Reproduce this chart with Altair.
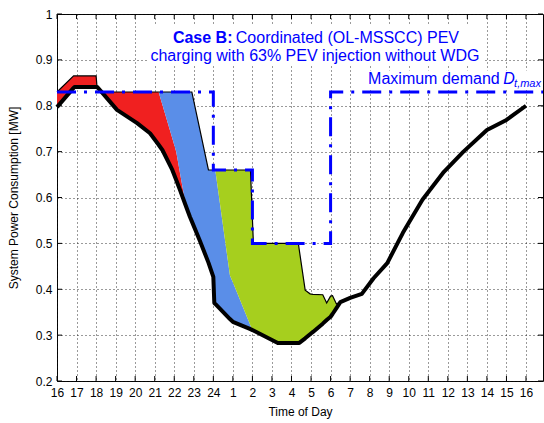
import altair as alt
import pandas as pd

# hours after 16:00 (0 = 16h, 8 = 24h, 24 = 16h next day)
hours = [0, 0.85, 0.9, 1.95, 2.0, 2.05, 2.3, 3.07, 4.1, 4.76, 5.2, 5.4, 5.9, 6.1, 6.3,
         6.6, 6.8, 6.9, 7.3, 7.75, 8.0, 8.05, 8.1, 8.85, 9.0, 9.9, 10.0, 10.05, 11.3,
         12.35, 12.4, 12.7, 12.95, 13.1, 13.6, 13.8, 14.0, 14.1, 14.3, 14.5,
         15.0, 15.6, 16.2, 16.9, 17.7, 18.7, 19.8, 20.8, 22.0, 23.0, 24.0]
base_load = [0.797, 0.839, 0.841, 0.841, 0.841, 0.841, 0.829, 0.791, 0.762, 0.740, 0.715,
             0.703, 0.660, 0.638, 0.616, 0.581, 0.558, 0.548, 0.507, 0.458, 0.427, 0.370,
             0.368, 0.335, 0.329, 0.313, 0.311, 0.310, 0.283, 0.283, 0.283, 0.293, 0.302,
             0.307, 0.325, 0.333, 0.340, 0.346, 0.359, 0.372,
             0.381, 0.390, 0.424, 0.457, 0.523, 0.595, 0.656, 0.700, 0.747, 0.769, 0.800]
red_pev = [0.033, 0.026, 0.024, 0.024, 0.024, 0.0, 0.001, 0.039, 0.068, 0.090, 0.115,
           0.098, 0.069, 0.062, 0.036, 0.0, 0, 0, 0, 0, 0, 0, 0, 0, 0, 0, 0, 0, 0,
           0, 0, 0, 0, 0, 0, 0, 0, 0, 0, 0]
blue_pev = [0, 0, 0, 0, 0, 0, 0, 0, 0, 0, 0.0, 0.029, 0.101, 0.130, 0.178, 0.249, 0.272,
            0.282, 0.243, 0.202, 0.233, 0.290, 0.292, 0.095, 0.086, 0.008, 0.0, 0, 0,
            0, 0, 0, 0, 0, 0, 0, 0, 0, 0, 0]
green_pev = [0, 0, 0, 0, 0, 0, 0, 0, 0, 0, 0, 0, 0, 0, 0, 0, 0, 0, 0, 0, 0, 0, 0.0,
             0.230, 0.245, 0.339, 0.242, 0.190, 0.217, 0.217, 0.202, 0.105, 0.088,
             0.082, 0.063, 0.037, 0.045, 0.040, 0.009, 0.0]

dmax_hours = [0, 8.0, 8.0, 10.0, 10.0, 14.0, 14.0, 24.87]
dmax_values = [0.83, 0.83, 0.66, 0.66, 0.50, 0.50, 0.83, 0.83]

tick_hours = list(range(25))
y_ticks = [0.2, 0.3, 0.4, 0.5, 0.6, 0.7, 0.8, 0.9, 1.0]

FONT = "Liberation Sans, Arial, Helvetica, sans-serif"
BLUE = "#0000FF"

n = len(red_pev)
pev = pd.DataFrame({"h": hours[:n], "base": base_load[:n], "red": red_pev,
                    "blue": blue_pev, "green": green_pev})
pev["r_lo"] = pev["base"]
pev["r_hi"] = pev["r_lo"] + pev["red"]
pev["b_lo"] = pev["r_hi"]
pev["b_hi"] = pev["b_lo"] + pev["blue"]
pev["g_lo"] = pev["b_hi"]
pev["g_hi"] = pev["g_lo"] + pev["green"]
pev["total"] = pev["g_hi"]

red_df = pev.iloc[0:16]
blue_df = pev.iloc[10:27]
green_df = pev.iloc[22:40]
base_df = pd.DataFrame({"h": hours, "v": base_load})
dmax_df = pd.DataFrame({"h": dmax_hours, "v": dmax_values, "o": list(range(len(dmax_hours)))})
xt_df = pd.DataFrame({"h": tick_hours})
yt_df = pd.DataFrame({"v": y_ticks})

xscale = alt.Scale(domain=[0, 24.87], nice=False, zero=False)
yscale = alt.Scale(domain=[0.2, 1.0], nice=False, zero=False)

x_axis = alt.Axis(values=tick_hours, labelExpr="((datum.value + 15) % 24) + 1",
                  title="Time of Day", grid=True, tickSize=0, labelPadding=6,
                  labelOverlap=False, labelBound=False, labelFlush=False,
                  titlePadding=8, domain=False)
y_axis = alt.Axis(values=y_ticks, format="~g", title="System Power Consumption [MW]",
                  grid=True, tickSize=0, labelPadding=5, titlePadding=15, domain=False,
                  labelOverlap=False, labelFlush=False)


def X(field="h"):
    return alt.X(f"{field}:Q", scale=xscale, axis=x_axis)


def Y(field="v"):
    return alt.Y(f"{field}:Q", scale=yscale, axis=y_axis)


# white backgrounds behind annotations
bg_df = pd.DataFrame({"h": [4.70, 15.75], "h2": [21.8, 24.87],
                      "v": [0.975, 0.877], "v2": [0.888, 0.836]})
bg = alt.Chart(bg_df).mark_rect(color="white").encode(x=X(), x2="h2", y=Y(), y2="v2")

red_area = alt.Chart(red_df).mark_area(color="#f02020", opacity=1).encode(
    x=X(), y=Y("r_hi"), y2="r_lo")
blue_area = alt.Chart(blue_df).mark_area(color="#5a8ee8", opacity=1).encode(
    x=X(), y=Y("b_hi"), y2="b_lo")
green_area = alt.Chart(green_df).mark_area(color="#a6cf1e", opacity=1).encode(
    x=X(), y=Y("g_hi"), y2="g_lo")
total_line = alt.Chart(pev).mark_line(color="black", strokeWidth=1.2).encode(
    x=X(), y=Y("total"))
base_line = alt.Chart(base_df).mark_line(color="black", strokeWidth=4,
                                         strokeJoin="round").encode(x=X(), y=Y())
dmax_line = alt.Chart(dmax_df).mark_line(color=BLUE, strokeWidth=3,
                                         strokeDash=[19, 8, 3, 8]).encode(
    x=X(), y=Y(), order="o:Q")

# inward ticks on all four sides
W, H = 486, 367
tick_b = alt.Chart(xt_df).mark_rule(color="black").encode(
    x=X(), y=alt.value(H), y2=alt.value(H - 5))
tick_t = alt.Chart(xt_df).mark_rule(color="black").encode(
    x=X(), y=alt.value(0), y2=alt.value(5))
tick_l = alt.Chart(yt_df).mark_rule(color="black").encode(
    y=Y(), x=alt.value(0), x2=alt.value(5))
tick_r = alt.Chart(yt_df).mark_rule(color="black").encode(
    y=Y(), x=alt.value(W), x2=alt.value(W - 5))

# annotations
case_df = pd.DataFrame({"h": [8.98], "v": [0.937], "t": ["Case B:"]})
l1_df = pd.DataFrame({"h": [9.15], "v": [0.937], "t": ["Coordinated (OL-MSSCC) PEV"]})
l2_df = pd.DataFrame({"h": [13.2], "v": [0.898], "t": ["charging with 63% PEV injection without WDG"]})
md_df = pd.DataFrame({"h": [15.92], "v": [0.8475], "t": ["Maximum demand"]})
d_df = pd.DataFrame({"h": [22.83], "v": [0.8475], "t": ["D"]})
sub_df = pd.DataFrame({"h": [23.39], "v": [0.840], "t": ["t,max"]})


def txt(df, align, size=16, weight="normal", style="normal"):
    return alt.Chart(df).mark_text(align=align, baseline="alphabetic", font=FONT,
                                   fontSize=size, fontWeight=weight, fontStyle=style,
                                   color=BLUE).encode(x=X(), y=Y(), text="t:N")


texts = [
    txt(case_df, "right", 16, "bold"),
    txt(l1_df, "left", 16),
    txt(l2_df, "center", 16),
    txt(md_df, "left", 16),
    txt(d_df, "left", 16, style="italic"),
    txt(sub_df, "left", 11, style="italic"),
]

chart = alt.layer(
    bg, red_area, blue_area, green_area, total_line, base_line, dmax_line,
    tick_b, tick_t, tick_l, tick_r, *texts
).properties(
    width=W, height=H,
    autosize=alt.AutoSizeParams(type="none"),
    padding={"left": 57, "top": 14, "right": 1, "bottom": 42},
    background="white",
).configure_view(
    stroke="black", strokeWidth=1
).configure_axis(
    labelFont=FONT, titleFont=FONT, labelFontSize=12, titleFontSize=12,
    labelColor="black", titleColor="black", titleFontWeight="normal",
    gridColor="#111111", gridDash=[1, 3], gridWidth=1, gridOpacity=0.85,
)

chart.save("out.html", embed_options={"renderer": "svg", "actions": False})
